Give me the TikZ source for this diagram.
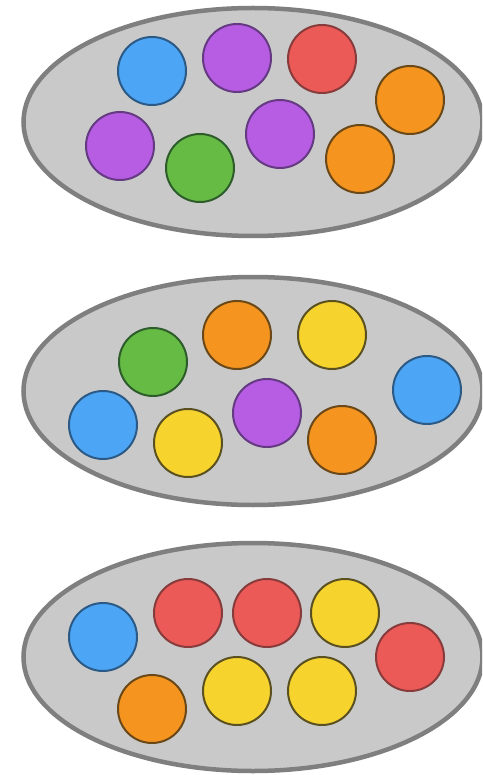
\documentclass[tikz,border=0pt]{standalone}
\usetikzlibrary{shapes.geometric}
\definecolor{trayfill}{HTML}{C9C9C9}
\definecolor{trayedge}{HTML}{7F7F7F}
\definecolor{cblue}{HTML}{4DA6F5}
\definecolor{cbluee}{HTML}{2B5A86}
\definecolor{cpurple}{HTML}{B75DE3}
\definecolor{cpurplee}{HTML}{653A82}
\definecolor{cred}{HTML}{EC5A58}
\definecolor{crede}{HTML}{873B3B}
\definecolor{corange}{HTML}{F5951F}
\definecolor{corangee}{HTML}{6A4818}
\definecolor{cgreen}{HTML}{66BB44}
\definecolor{cgreene}{HTML}{2E5D2C}
\definecolor{cyellow}{HTML}{F7D32E}
\definecolor{cyellowe}{HTML}{5B5120}
\begin{document}
\begin{tikzpicture}[x=1pt,y=-1pt,
  tray/.style={ellipse,draw=trayedge,fill=trayfill,line width=4.5pt,minimum width=459pt,minimum height=228pt,inner sep=0pt},
  ball/.style={circle,line width=2pt,minimum size=68pt,inner sep=0pt},
  bblue/.style={ball,fill=cblue,draw=cbluee},
  bpurple/.style={ball,fill=cpurple,draw=cpurplee},
  bred/.style={ball,fill=cred,draw=crede},
  borange/.style={ball,fill=corange,draw=corangee},
  bgreen/.style={ball,fill=cgreen,draw=cgreene},
  byellow/.style={ball,fill=cyellow,draw=cyellowe}]
\useasboundingbox[fill=white] (0,0) rectangle (482,775);
\clip (0,0) rectangle (482,775);
% tray 1
\node[tray] (t1) at (253,122) {};
\node[bblue]   (a1) at (152,71) {};
\node[bpurple] (a2) at (237,58) {};
\node[bred]    (a3) at (322,59) {};
\node[borange] (a4) at (410,100) {};
\node[bpurple] (a5) at (120,146) {};
\node[bgreen]  (a6) at (200,168) {};
\node[bpurple] (a7) at (280,134) {};
\node[borange] (a8) at (360,159) {};
% tray 2
\node[tray] (t2) at (253,391) {};
\node[bgreen]  (b1) at (153,362) {};
\node[borange] (b2) at (237,335) {};
\node[byellow] (b3) at (332,335) {};
\node[bblue]   (b4) at (427,390) {};
\node[bblue]   (b5) at (103,425) {};
\node[byellow] (b6) at (188,443) {};
\node[bpurple] (b7) at (267,413) {};
\node[borange] (b8) at (342,440) {};
% tray 3
\node[tray] (t3) at (253,657) {};
\node[bblue]   (c1) at (103,637) {};
\node[bred]    (c2) at (188,613) {};
\node[bred]    (c3) at (267,613) {};
\node[byellow] (c4) at (345,613) {};
\node[bred]    (c5) at (410,657) {};
\node[borange] (c6) at (152,709) {};
\node[byellow] (c7) at (237,691) {};
\node[byellow] (c8) at (322,691) {};
\end{tikzpicture}
\end{document}
